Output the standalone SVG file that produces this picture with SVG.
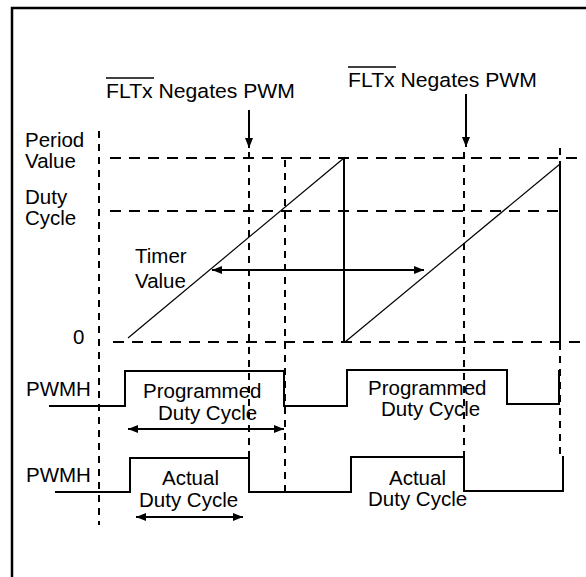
<svg xmlns="http://www.w3.org/2000/svg" width="586" height="577" viewBox="0 0 586 577">
<style>
.t{font-family:"Liberation Sans",Arial,sans-serif;font-size:20.5px;fill:#000}
.dv{stroke:#000;stroke-width:2;stroke-dasharray:7 6;fill:none}
.dh{stroke:#000;stroke-width:2;stroke-dasharray:11 8;fill:none}
.s{stroke:#000;stroke-width:2;fill:none}
.thin{stroke:#000;stroke-width:1.2;fill:none}
</style>
<defs>
<marker id="ah" viewBox="0 0 10 8" refX="10" refY="4" markerWidth="10" markerHeight="8" markerUnits="userSpaceOnUse" orient="auto-start-reverse">
<path d="M0,0 L10,4 L0,8 Z" fill="#000"/>
</marker>
</defs>
<rect width="586" height="577" fill="#fff"/>
<path d="M12,577 V8 H586" stroke="#000" stroke-width="2.5" fill="none"/>

<g id="grid">
<line class="dh" x1="110" y1="158" x2="580" y2="158"/>
<line class="dh" x1="110" y1="211" x2="558" y2="211"/>
<line class="dh" x1="113" y1="342" x2="586" y2="342"/>
<line class="dv" x1="99" y1="131" x2="99" y2="525"/>
<line class="dv" x1="249" y1="152" x2="249" y2="458"/>
<line class="dv" x1="285" y1="160" x2="285" y2="493"/>
<line class="dv" x1="464" y1="152" x2="464" y2="457"/>
<line class="dv" x1="560" y1="148" x2="560" y2="456"/>
</g>

<g id="timer">
<line class="thin" x1="128" y1="338" x2="344" y2="158"/>
<line class="s" x1="344" y1="158" x2="344" y2="342"/>
<line class="thin" x1="345" y1="342" x2="560" y2="164"/>
<line class="s" x1="560" y1="164" x2="560" y2="342"/>
</g>

<g id="pwmh-programmed">
<polyline class="s" points="49,406 125,406 125,371 284,371 284,406 347,406 347,370 507,370 507,404 559,404 559,370"/>
</g>

<g id="pwmh-actual">
<polyline class="s" points="55,492 130,492 130,458 249,458 249,492 351,492 351,457 464,457 464,491 563,491 563,456"/>
</g>

<g id="connectors">
<line class="s" x1="249" y1="110" x2="249" y2="148" marker-end="url(#ah)"/>
<line class="s" x1="466" y1="94" x2="466" y2="147" marker-end="url(#ah)"/>
<line class="s" x1="212" y1="270" x2="424" y2="270" marker-start="url(#ah)" marker-end="url(#ah)"/>
<line class="s" x1="128" y1="429" x2="284" y2="429" marker-start="url(#ah)" marker-end="url(#ah)"/>
<line class="s" x1="136" y1="517" x2="243" y2="517" marker-start="url(#ah)" marker-end="url(#ah)"/>
</g>

<g id="labels">
<text class="t" x="106" y="98" textLength="189" lengthAdjust="spacingAndGlyphs">FLTx Negates PWM</text>
<line x1="106" y1="78" x2="154" y2="78" stroke="#000" stroke-width="1.5"/>
<text class="t" x="348" y="87" textLength="189" lengthAdjust="spacingAndGlyphs">FLTx Negates PWM</text>
<line x1="348" y1="67" x2="396" y2="67" stroke="#000" stroke-width="1.5"/>
<text class="t" x="25" y="147">Period</text>
<text class="t" x="25" y="168">Value</text>
<text class="t" x="25" y="204">Duty</text>
<text class="t" x="25" y="225">Cycle</text>
<text class="t" x="135" y="263">Timer</text>
<text class="t" x="135" y="288">Value</text>
<text class="t" x="73" y="344">0</text>
<text class="t" x="26" y="396">PWMH</text>
<text class="t" x="143" y="398">Programmed</text>
<text class="t" x="158" y="420">Duty Cycle</text>
<text class="t" x="26" y="482">PWMH</text>
<text class="t" x="162" y="485">Actual</text>
<text class="t" x="139" y="507">Duty Cycle</text>
<text class="t" x="368" y="395">Programmed</text>
<text class="t" x="381" y="416">Duty Cycle</text>
<text class="t" x="389" y="485">Actual</text>
<text class="t" x="368" y="506">Duty Cycle</text>
</g>
</svg>
